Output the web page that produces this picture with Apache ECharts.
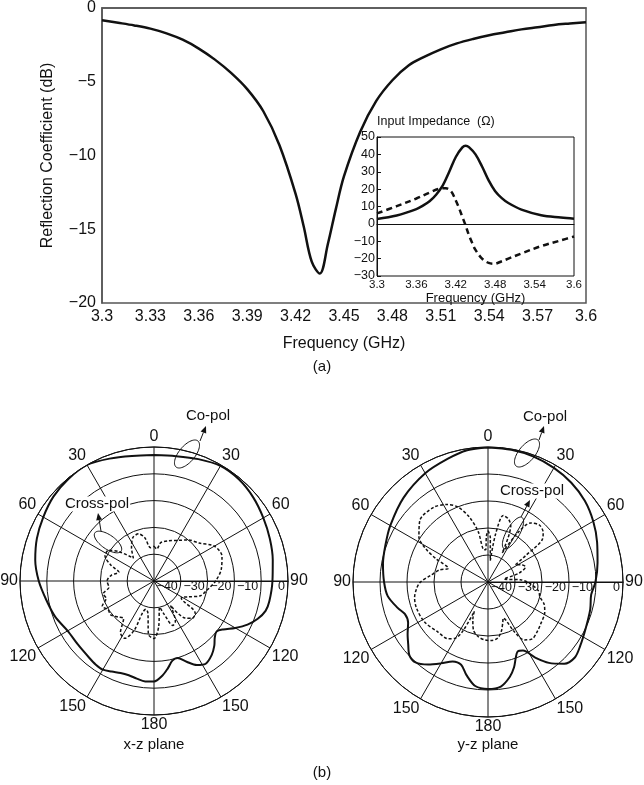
<!DOCTYPE html>
<html><head><meta charset="utf-8">
<script src="https://cdn.jsdelivr.net/npm/echarts@6/dist/echarts.min.js"></script>
<style>html,body{margin:0;padding:0;background:#fff}#c{width:644px;height:785px}</style>
</head><body><div id="c"></div>
<script>
// ---- (a) Reflection coefficient ----
const s11Freq = [3.30,3.31,3.32,3.33,3.34,3.35,3.36,3.37,3.38,3.39,3.40,3.41,3.42,3.425,3.43,3.435,3.44,3.445,3.45,3.46,3.47,3.48,3.49,3.50,3.51,3.52,3.53,3.54,3.55,3.56,3.57,3.58,3.59,3.60];
const s11dB   = [-0.83,-1.0,-1.18,-1.4,-1.72,-2.15,-2.75,-3.5,-4.4,-5.5,-7.0,-9.3,-12.6,-14.8,-17.2,-18.0,-16.0,-13.6,-11.4,-8.4,-6.3,-4.9,-3.9,-3.3,-2.8,-2.4,-2.1,-1.85,-1.65,-1.45,-1.3,-1.15,-1.05,-0.96];
const mainXTicks = {min:3.3, max:3.6, step:0.03};
const mainYTicks = {min:-20, max:0, step:5};

// ---- inset: input impedance ----
const rFreq = [3.30,3.33,3.36,3.37,3.38,3.39,3.40,3.41,3.42,3.43,3.435,3.44,3.45,3.46,3.47,3.48,3.49,3.50,3.52,3.55,3.58,3.60];
const rOhm  = [2.8,4.8,8.5,10.5,13,16.8,22,30,38.5,44,45,44.2,40,33,25,18.8,14.8,12,8.2,5,3.7,3];
const xFreq = [3.30,3.33,3.36,3.38,3.395,3.405,3.413,3.42,3.425,3.43,3.435,3.44,3.445,3.45,3.46,3.47,3.478,3.49,3.50,3.52,3.55,3.58,3.60];
const xOhm  = [6,10.2,14.6,18,20.2,20.5,18.7,13.5,9,4,-1,-6.5,-11,-15,-20,-22.5,-23,-21.5,-20,-17,-12.8,-9.5,-7.3];
const insetXTicks = {min:3.3, max:3.6, step:0.06};
const insetYTicks = {min:-30, max:50, step:10};

// ---- (b) radiation patterns: angle (deg, clockwise from 0 at top), level (dB) ----
const xzCoAng = [0,10,20,30,40,50,60,70,80,90,100,105,110,115,120,125,129,133,137,142,148,153,158,163,167,171,175,180,185,190,195,200,205,210,215,220,230,240,250,260,270,280,290,300,310,320,330,340,350,360];
const xzCo    = [-3,-2.7,-1.6,-0.4,-0.6,-1.6,-2.9,-4,-5,-5.8,-6.3,-6.9,-8.8,-11.5,-15,-18.5,-20,-19,-17,-15,-13.6,-14.8,-17.5,-20,-19.5,-17,-14.5,-12.5,-12.4,-13,-13.6,-13.5,-12.7,-11.8,-12,-12.5,-13,-12.8,-10.8,-9.2,-7,-5,-3.5,-2.3,-1,-0.3,0,-1.4,-2.6,-3];
const xzCrAng = [0,5,10,20,30,40,50,60,70,80,90,100,108,115,122,128,134,140,146,152,157,163,168,174,180,186,191,196,202,207,213,219,225,232,238,244,250,256,262,270,278,284,290,297,304,310,318,326,334,342,348,354,360];
const xzCr    = [-37,-38,-35.5,-34,-32.5,-30,-28,-24,-23,-24.5,-27,-30,-32,-36,-38,-30.5,-30,-32,-39,-33,-32,-37,-40,-33,-28.5,-30,-38,-39,-30,-26,-27,-32,-31,-29.5,-29.8,-28.5,-31,-30.5,-33,-32.5,-34,-36.5,-33,-29.5,-29.5,-33,-38.5,-35,-32,-31.5,-33.5,-37.5,-37];
const yzCoAng = [0,10,20,30,40,50,60,70,80,90,97,105,115,125,131,137,143,148,153,157,160,163,167,173,180,187,193,198,204,210,216,222,227,232,237,243,249,254,262,270,280,290,300,315,330,342,351,360];
const yzCo    = [-0.2,-0.3,-0.6,-1.2,-2,-3.2,-5,-7,-8.8,-10.2,-11.5,-10.8,-10,-8.4,-7.4,-8.6,-12.5,-17,-21.5,-22,-20,-17,-14,-11,-10.4,-11.2,-14.6,-17.8,-17.8,-15.2,-12.2,-9.9,-10.2,-12.5,-14.5,-16.8,-17,-15.2,-12.5,-11.5,-10.5,-9.6,-8.2,-5.8,-3.5,-2,-0.6,-0.2];
const yzCrAng = [0,3,6,9,13,18,22,26,31,36,42,48,52,55,58,63,68,74,80,86,92,100,106,112,118,129,136,142,148,152,155,157,160,165,170,176,183,190,197,202,205,207,210,215,225,238,250,258,265,270,277,284,289,294,298,303,312,324,332,338,344,349,353,356,358,360];
const yzCr    = [-31,-33.5,-42,-32,-24.7,-25.5,-27.5,-38,-29,-23,-21.6,-22.5,-24.5,-33,-38,-36,-35,-38,-44,-38,-34.5,-31,-30,-27.5,-26.2,-25,-24,-23.3,-24.7,-29,-34.5,-35.5,-34,-31,-29,-28.3,-28.5,-29.4,-31.5,-35,-38,-30,-26,-24.3,-23.8,-22.2,-21.8,-22.2,-23.5,-25,-28.8,-31.5,-34.5,-29,-24,-19.5,-16,-15.8,-17.5,-20,-25,-31,-38,-38,-33,-31];
const polarRing = {min:-50, max:0, step:10};
const angleStep = 30;

const FONT = '"Liberation Sans", Arial, Helvetica, sans-serif';
const BLACK = '#111';
const minus = v => (v < 0 ? '\u2212' + Math.abs(v) : String(v));
const zip = (a, b) => a.map((x, i) => [x, b[i]]);
// polar angle axis: startAngle 0 (east), clockwise; real angle measured from top
const polarPts = (ang, val) => ang.map((a, i) => [val[i], ((a - 90) % 360 + 360) % 360]);

const polarCenters = [[154, 581], [488, 582]];
const polarRadius = [134, 135];

function angleAxis(idx) {
  return {
    polarIndex: idx, type: 'value', min: 0, max: 360, interval: angleStep,
    startAngle: 0, clockwise: true,
    axisLine: {lineStyle: {color: BLACK, width: 1}},
    axisTick: {show: false},
    splitLine: {show: true, lineStyle: {color: BLACK, width: 1}},
    axisLabel: {
      color: BLACK, fontSize: 16, fontFamily: FONT, margin: 2,
      formatter: v => { let r = ((v + 90) % 360 + 360) % 360; if (r > 180) r = 360 - r; return String(r); }
    }
  };
}
function radiusAxis(idx) {
  return {
    polarIndex: idx, type: 'value', min: polarRing.min, max: polarRing.max, interval: polarRing.step,
    axisLine: {show: true, lineStyle: {color: BLACK, width: 1}},
    axisTick: {show: false},
    splitLine: {show: true, lineStyle: {color: BLACK, width: 1}},
    axisLabel: {
      color: BLACK, fontSize: 12.5, fontFamily: FONT, margin: 1, align: 'right', verticalAlign: 'top',
      padding: [0, 3, 0, 0],
      formatter: v => (v === polarRing.min ? '' : minus(v))
    },
    z: 1
  };
}

function ellipse(c, dx, dy, a, b, rot) {
  const t = rot * Math.PI / 180, pts = [];
  const cx = c[0] + dx, cy = c[1] + dy;
  for (let i = 0; i < 60; i++) {
    const u = i / 60 * 2 * Math.PI, x = a * Math.cos(u), y = b * Math.sin(u);
    pts.push([cx + x * Math.cos(t) - y * Math.sin(t), cy - (x * Math.sin(t) + y * Math.cos(t))]);
  }
  return {type: 'polygon', shape: {points: pts}, style: {fill: 'none', stroke: BLACK, lineWidth: 1}, z: 50};
}
function arrow(c, dx1, dy1, dx2, dy2) {
  const x1 = c[0] + dx1, y1 = c[1] + dy1, x2 = c[0] + dx2, y2 = c[1] + dy2;
  const ang = Math.atan2(y2 - y1, x2 - x1), L = 7, W = 3;
  const bx = x2 - L * Math.cos(ang), by = y2 - L * Math.sin(ang);
  return [
    {type: 'line', shape: {x1, y1, x2: bx, y2: by}, style: {stroke: BLACK, lineWidth: 1}, z: 50},
    {type: 'polygon', shape: {points: [[x2, y2], [bx + W * Math.sin(ang), by - W * Math.cos(ang)], [bx - W * Math.sin(ang), by + W * Math.cos(ang)]]},
     style: {fill: BLACK}, z: 50}
  ];
}
function label(c, dx, dy, text, bg) {
  return {type: 'text', x: c[0] + dx, y: c[1] + dy, z: 60,
    style: {text, fill: BLACK, font: '15px ' + FONT, align: 'center', verticalAlign: 'middle',
      backgroundColor: bg ? '#fff' : 'transparent', padding: bg ? [0, 1] : 0}};
}
function caption(x, y, text) {
  return {type: 'text', x, y, z: 60, style: {text, fill: BLACK, font: '15px ' + FONT, align: 'center', verticalAlign: 'middle'}};
}

const L = polarCenters[0], Rr = polarCenters[1];
const graphics = [
  caption(322, 367, '(a)'), caption(322, 773, '(b)'),
  caption(L[0], 745, 'x-z plane'), caption(Rr[0], 745, 'y-z plane'),
  label(L, 54, -165, 'Co-pol', false), ellipse(L, 33, -127, 17, 8, 50), ...arrow(L, 46, -140, 52, -155),
  label(L, -57, -77, 'Cross-pol', true), ellipse(L, -46, -39, 16, 7, -35), ...arrow(L, -53, -50, -56, -68),
  label(Rr, 57, -165, 'Co-pol', false), ellipse(Rr, 39, -129, 17, 8, 50), ...arrow(Rr, 51, -142, 56, -156),
  label(Rr, 44, -91, 'Cross-pol', true), ellipse(Rr, 25, -49, 18, 6.5, 60), ...arrow(Rr, 33, -65, 42, -82)
];

const chart = echarts.init(document.getElementById('c'), null, {renderer: 'canvas'});
chart.setOption({
  backgroundColor: '#fff',
  animation: false,
  textStyle: {fontFamily: FONT, color: BLACK},
  grid: [
    {left: 102, top: 6, width: 484, height: 297, show: true, borderColor: '#555', borderWidth: 1.5, backgroundColor: 'transparent'},
    {left: 377, top: 137, width: 197, height: 139, show: true, borderColor: BLACK, borderWidth: 1, backgroundColor: '#fff', z: 5}
  ],
  xAxis: [
    {gridIndex: 0, type: 'value', min: mainXTicks.min, max: mainXTicks.max, interval: mainXTicks.step,
     axisLine: {lineStyle: {color: '#555', width: 1.5}}, axisTick: {show: false}, splitLine: {show: false},
     axisLabel: {color: BLACK, fontSize: 16, margin: 6, formatter: v => String(+v.toFixed(2))},
     name: 'Frequency (GHz)', nameLocation: 'middle', nameGap: 33, nameTextStyle: {fontSize: 16, color: BLACK}},
    {gridIndex: 1, type: 'value', min: insetXTicks.min, max: insetXTicks.max, interval: insetXTicks.step,
     axisLine: {lineStyle: {color: BLACK, width: 1}}, axisTick: {show: false}, splitLine: {show: false},
     axisLabel: {color: BLACK, fontSize: 11.5, margin: 3, formatter: v => String(+v.toFixed(2))},
     name: 'Frequency (GHz)', nameLocation: 'middle', nameGap: 16, nameTextStyle: {fontSize: 13, color: BLACK}, z: 6}
  ],
  yAxis: [
    {gridIndex: 0, type: 'value', min: mainYTicks.min, max: mainYTicks.max, interval: mainYTicks.step,
     axisLine: {lineStyle: {color: '#555', width: 1.5}}, axisTick: {show: false}, splitLine: {show: false},
     axisLabel: {color: BLACK, fontSize: 16, margin: 6, formatter: minus},
     name: 'Reflection Coefficient (dB)', nameLocation: 'middle', nameGap: 46, nameTextStyle: {fontSize: 16, color: BLACK}},
    {gridIndex: 1, type: 'value', min: insetYTicks.min, max: insetYTicks.max, interval: insetYTicks.step,
     axisLine: {lineStyle: {color: BLACK, width: 1}}, axisTick: {show: true, inside: true, length: 4, lineStyle: {color: BLACK}},
     splitLine: {show: false},
     axisLabel: {color: BLACK, fontSize: 12.5, margin: 2, formatter: minus},
     name: 'Input Impedance  (\u03A9)', nameLocation: 'end', nameGap: 9,
     nameTextStyle: {fontSize: 12.5, color: BLACK, align: 'left'}, z: 6}
  ],
  polar: [
    {center: polarCenters[0], radius: polarRadius[0]},
    {center: polarCenters[1], radius: polarRadius[1]}
  ],
  angleAxis: [angleAxis(0), angleAxis(1)],
  radiusAxis: [radiusAxis(0), radiusAxis(1)],
  series: [
    {type: 'line', xAxisIndex: 0, yAxisIndex: 0, data: zip(s11Freq, s11dB), showSymbol: false, smooth: 0.35,
     lineStyle: {color: BLACK, width: 2.5}},
    {type: 'line', xAxisIndex: 1, yAxisIndex: 1, data: zip(rFreq, rOhm), showSymbol: false, smooth: 0.35, z: 8,
     lineStyle: {color: BLACK, width: 2.5},
     markLine: {silent: true, symbol: 'none', label: {show: false}, lineStyle: {color: BLACK, width: 1.2, type: 'solid'}, data: [{yAxis: 0}]}},
    {type: 'line', xAxisIndex: 1, yAxisIndex: 1, data: zip(xFreq, xOhm), showSymbol: false, smooth: 0.35, z: 8,
     lineStyle: {color: BLACK, width: 2.5, type: [6, 4]}},
    {type: 'line', coordinateSystem: 'polar', polarIndex: 0, data: polarPts(xzCoAng, xzCo), showSymbol: false, smooth: 0.3,
     lineStyle: {color: BLACK, width: 2}, z: 10},
    {type: 'line', coordinateSystem: 'polar', polarIndex: 0, data: polarPts(xzCrAng, xzCr), showSymbol: false, smooth: 0.3,
     lineStyle: {color: BLACK, width: 1.5, type: [3, 2]}, z: 10},
    {type: 'line', coordinateSystem: 'polar', polarIndex: 1, data: polarPts(yzCoAng, yzCo), showSymbol: false, smooth: 0.3,
     lineStyle: {color: BLACK, width: 2}, z: 10},
    {type: 'line', coordinateSystem: 'polar', polarIndex: 1, data: polarPts(yzCrAng, yzCr), showSymbol: false, smooth: 0.3,
     lineStyle: {color: BLACK, width: 1.5, type: [3, 2]}, z: 10}
  ],
  graphic: graphics
});
</script></body></html>
